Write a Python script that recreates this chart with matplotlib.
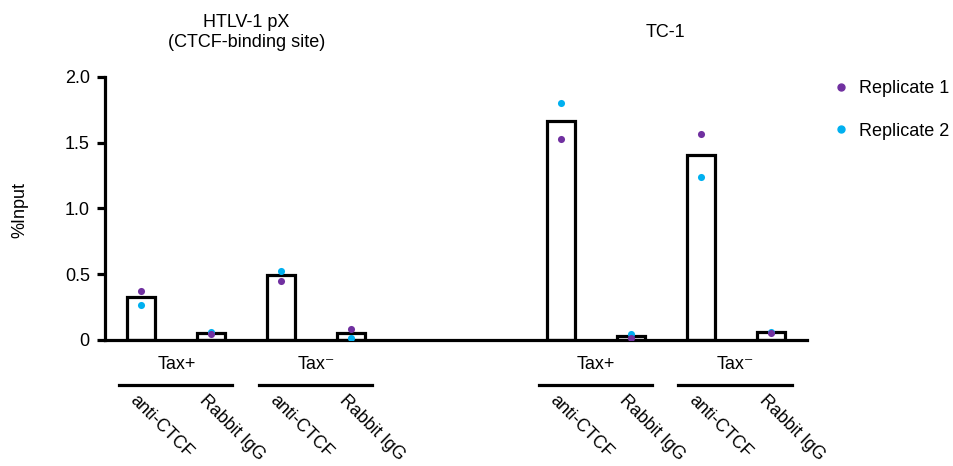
import matplotlib
matplotlib.use("Agg")
import matplotlib.pyplot as plt
import matplotlib.transforms as mtransforms
from matplotlib.lines import Line2D

plt.rcParams["font.family"] = ["Liberation Sans", "DejaVu Sans"]
plt.rcParams["font.size"] = 13

# ── data ───────────────────────────────────────────────────────────
positions = [0, 1, 2, 3, 6, 7, 8, 9]
antibodies = ["anti-CTCF", "Rabbit IgG"] * 4
bar_means = [0.33, 0.055, 0.495, 0.05, 1.665, 0.03, 1.41, 0.058]
rep1 = [0.375, 0.045, 0.45, 0.083, 1.526, 0.018, 1.57, 0.05]
rep2 = [0.266, 0.06, 0.525, 0.013, 1.80, 0.043, 1.24, 0.063]

group_starts = [0, 2, 6, 8]
group_labels = ["Tax+", "Tax\u207b", "Tax+", "Tax\u207b"]

panel_titles = ["HTLV-1 pX\n(CTCF-binding site)", "TC-1"]
panel_centers = [1.5, 7.5]

yticks = [0, 0.5, 1.0, 1.5, 2.0]

PURPLE = "#7030A0"
BLUE = "#00B0F0"

# ── figure ─────────────────────────────────────────────────────────
fig = plt.figure(figsize=(9.54, 4.66), dpi=100)
ax = fig.add_axes([0.1101, 0.2704, 0.7358, 0.5644])

ax.bar(positions, bar_means, width=0.4, color="white", edgecolor="black",
       linewidth=2.3, zorder=2)
ax.scatter(positions, rep2, s=26, color=BLUE, zorder=3, linewidths=0)
ax.scatter(positions, rep1, s=26, color=PURPLE, zorder=4, linewidths=0)

ax.set_xlim(-0.52, 9.52)
ax.set_ylim(0, 2.0)
ax.set_yticks(yticks)
ax.set_yticklabels(["0" if v == 0 else f"{v:.1f}" for v in yticks])
ax.set_xticks([])
for side in ("top", "right"):
    ax.spines[side].set_visible(False)
for side in ("left", "bottom"):
    ax.spines[side].set_linewidth(2.3)
ax.tick_params(axis="y", length=6, width=2.3, pad=5, labelsize=13)

fig.text(20 / 954, 1 - 210 / 466, "%Input", rotation=90, ha="center",
         va="center", fontsize=13)

trans = mtransforms.blended_transform_factory(ax.transData, ax.transAxes)

# group labels + underlines
for start, lab in zip(group_starts, group_labels):
    ax.text(start + 0.5, -0.095, lab, transform=trans, ha="center",
            va="center", fontsize=13)
    ax.add_line(Line2D([start - 0.32, start + 1.3], [-0.171, -0.171],
                       transform=trans, color="black", lw=2.3,
                       clip_on=False))

# rotated antibody labels
for pos, lab in zip(positions, antibodies):
    ax.text(pos - 0.04, -0.198, lab, transform=trans, rotation=-45,
            rotation_mode="anchor", ha="left", va="top", fontsize=12.8)

# panel titles
for cx, title in zip(panel_centers, panel_titles):
    ax.text(cx, 1.17, title, transform=trans, ha="center", va="center",
            fontsize=13, linespacing=1.25)

handles = [
    Line2D([0], [0], marker="o", ls="", color=PURPLE, markersize=5,
           label="Replicate 1"),
    Line2D([0], [0], marker="o", ls="", color=BLUE, markersize=5,
           label="Replicate 2"),
]
fig.legend(handles=handles, loc="upper left",
           bbox_to_anchor=(816 / 954, 1 - 64 / 466), frameon=False,
           fontsize=13, handletextpad=0.5, labelspacing=1.4,
           handlelength=1.0)

fig.savefig("out.png", dpi=100)
